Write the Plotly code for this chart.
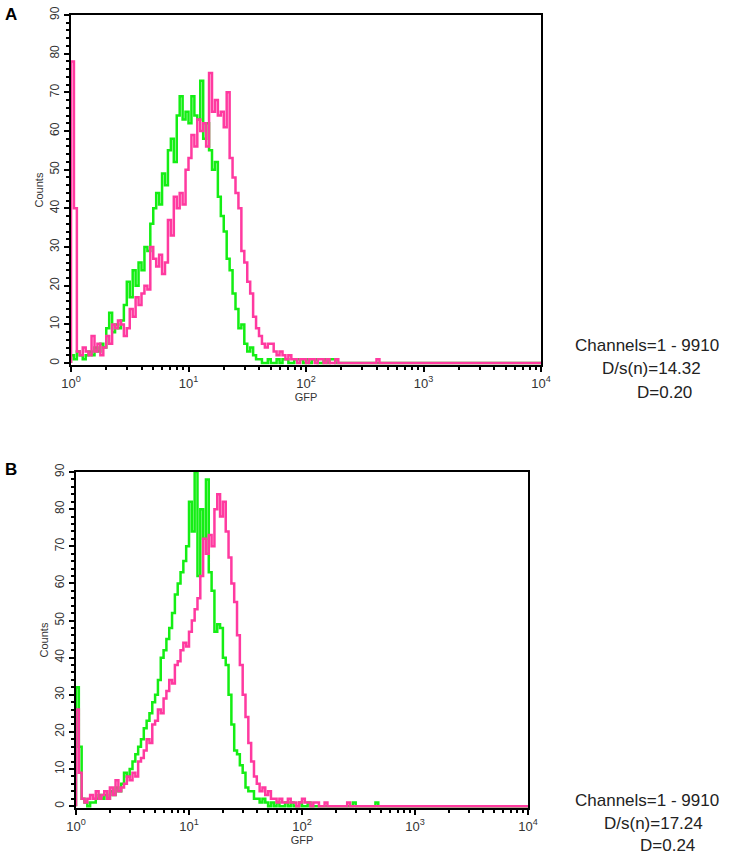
import plotly.graph_objects as go

# ---- data: histogram counts per channel bin (40 bins per decade, starting at 10^0) ----
BINS_PER_DECADE = 40
CHANNEL_MAX = 10 ** 4

green_A = [2, 1, 3, 2, 1, 2, 3, 2, 4, 3, 5, 4, 9, 13, 8, 10, 9, 11, 15, 21,
           17, 24, 20, 26, 24, 30, 29, 36, 40, 44, 41, 49, 46, 55, 58, 52, 64, 69, 63, 65,
           62, 69, 64, 63, 73, 58, 62, 55, 50, 52, 43, 38, 34, 27, 24, 18, 14, 9, 10, 5,
           3, 4, 2, 1, 1, 0, 0, 1, 0, 0, 1, 0, 1, 1, 0, 0, 1, 1, 1, 0,
           1, 0, 1, 1, 0, 0, 1, 0, 1, 1, 0, 0, 0, 0, 0, 0]
magenta_A = [78, 40, 3, 2, 4, 3, 2, 7, 3, 5, 2, 4, 7, 5, 10, 9, 11, 10, 7, 9,
             14, 12, 17, 15, 18, 20, 19, 30, 27, 25, 28, 23, 26, 37, 33, 43, 40, 44, 41, 50,
             53, 59, 56, 63, 60, 62, 56, 75, 65, 68, 64, 65, 61, 70, 53, 48, 44, 40, 29, 26,
             21, 18, 12, 9, 7, 5, 4, 5, 5, 3, 2, 3, 2, 1, 2, 1, 1, 0, 1, 1,
             0, 1, 1, 0, 1, 1, 0, 1, 0, 0, 1, 0, 0, 0, 0, 0, 0, 0, 0, 0,
             0, 0, 0, 0, 1, 0, 0, 0]
green_B = [32, 16, 2, 1, 0, 1, 1, 2, 3, 2, 3, 2, 4, 3, 5, 4, 6, 9, 8, 10,
           12, 14, 16, 18, 21, 23, 25, 28, 30, 34, 40, 42, 45, 48, 52, 57, 60, 63, 66, 70,
           82, 74, 90, 62, 80, 72, 88, 63, 58, 47, 49, 48, 40, 38, 30, 22, 15, 14, 11, 9,
           5, 4, 4, 2, 2, 1, 2, 1, 0, 1, 0, 1, 0, 0, 1, 0, 1, 0, 0, 1,
           0, 0, 1, 0, 0, 0, 0, 0, 0, 0, 0, 0, 0, 0, 0, 0, 0, 0, 1, 0,
           0, 0, 0, 0, 0, 0, 1, 0]
magenta_B = [26, 9, 2, 1, 2, 3, 2, 4, 2, 3, 4, 2, 5, 3, 7, 4, 5, 6, 8, 7,
             9, 8, 12, 13, 15, 18, 17, 22, 23, 26, 25, 29, 31, 34, 33, 38, 39, 42, 44, 43,
             47, 50, 53, 56, 62, 72, 68, 73, 70, 80, 84, 78, 82, 74, 67, 60, 55, 46, 38, 30,
             24, 17, 12, 8, 6, 4, 5, 3, 4, 2, 2, 1, 2, 1, 1, 2, 1, 1, 0, 1,
             2, 1, 1, 0, 1, 1, 0, 0, 1, 0, 0, 0, 0, 0, 0, 0, 1, 0, 0, 0,
             0, 0, 0, 0, 0, 0, 0, 0]

x_tick_vals = [1, 10, 100, 1000, 10000]
x_tick_text = ["10<sup>0</sup>", "10<sup>1</sup>", "10<sup>2</sup>", "10<sup>3</sup>", "10<sup>4</sup>"]
y_tick_vals = [0, 10, 20, 30, 40, 50, 60, 70, 80, 90]

stats_A = ["Channels=1 - 9910", "D/s(n)=14.32", "D=0.20"]
stats_B = ["Channels=1 - 9910", "D/s(n)=17.24", "D=0.24"]

GREEN = "#14ee14"
PINK = "#ff3aa0"
W, H = 748, 861


def edges(counts):
    xs = [10 ** (k / BINS_PER_DECADE) for k in range(len(counts))]
    return [1] + xs + [CHANNEL_MAX], [0] + list(counts) + [0]


fig = go.Figure()
for series, color, ax in [(green_A, GREEN, ""), (magenta_A, PINK, ""),
                          (green_B, GREEN, "2"), (magenta_B, PINK, "2")]:
    xs, ys = edges(series)
    fig.add_trace(go.Scatter(x=xs, y=ys, mode="lines", line=dict(color=color, width=2.5, shape="hv"),
                             xaxis="x" + ax, yaxis="y" + ax, showlegend=False, hoverinfo="skip"))


def px_dom(a, b, total):
    return [a / total, b / total]


def ydom(top, bottom):
    return [1 - bottom / H, 1 - top / H]


FONT = "Liberation Sans, Arial, sans-serif"
common_x = dict(type="log", range=[0, 4], tickvals=x_tick_vals, ticktext=x_tick_text,
                ticks="outside", ticklen=5, tickwidth=2, tickcolor="black", automargin=False,
                showline=True, linecolor="black", linewidth=2, mirror=True,
                showgrid=False, zeroline=False, tickfont=dict(family=FONT, size=13, color="#333"),
                minor=dict(tickvals=[m * 10 ** e for e in range(4) for m in range(2, 10)],
                           ticks="outside", ticklen=3, tickwidth=2, tickcolor="black", showgrid=False),
                title=dict(text="GFP", font=dict(family=FONT, size=11, color="#333"), standoff=1))
common_y = dict(range=[-0.5, 90], tickvals=y_tick_vals, tickangle=-90,
                ticks="outside", ticklen=5, tickwidth=2, tickcolor="black", automargin=False,
                showline=True, linecolor="black", linewidth=2, mirror=True,
                showgrid=False, zeroline=False, tickfont=dict(family=FONT, size=12, color="#333"),
                minor=dict(dtick=2, ticks="outside", ticklen=3, tickwidth=2, tickcolor="black", showgrid=False),
                title=dict(text="Counts", font=dict(family=FONT, size=11, color="#333"), standoff=2))

fig.update_layout(
    width=W, height=H, margin=dict(l=0, r=0, t=0, b=0, autoexpand=False),
    paper_bgcolor="white", plot_bgcolor="white",
    xaxis=dict(domain=px_dom(71, 541, W), anchor="y", **common_x),
    yaxis=dict(domain=ydom(15, 365), anchor="x", **common_y),
    xaxis2=dict(domain=px_dom(76, 528, W), anchor="y2", **common_x),
    yaxis2=dict(domain=ydom(472, 808), anchor="x2", **common_y),
)

annots = []
font_stats = dict(family=FONT, size=17, color="#222")
for lines, lefts, ys in [(stats_A, [573, 600, 635], [345, 368, 392]),
                         (stats_B, [573, 602, 638], [800, 823, 845])]:
    for t, xl, yc in zip(lines, lefts, ys):
        annots.append(dict(text=t, x=xl / W, y=1 - yc / H, xref="paper", yref="paper",
                           xanchor="left", yanchor="middle", showarrow=False, font=font_stats))
for lab, xc, yc in [("A", 11, 15), ("B", 11, 470)]:
    annots.append(dict(text="<b>%s</b>" % lab, x=xc / W, y=1 - yc / H, xref="paper", yref="paper",
                       xanchor="center", yanchor="middle", showarrow=False,
                       font=dict(family=FONT, size=17, color="black")))
fig.update_layout(annotations=annots)

fig.write_html("out.html", config={"displayModeBar": False},
               post_script="document.body.style.margin='0px';document.body.style.overflow='hidden';")
